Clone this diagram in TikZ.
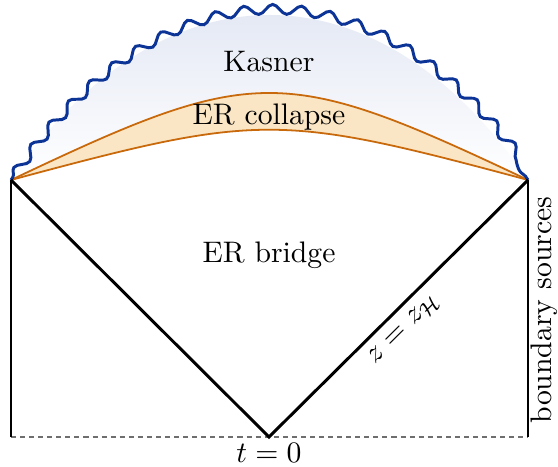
\documentclass[tikz,border=0pt]{standalone}
\usetikzlibrary{decorations.pathmorphing}
\definecolor{kasnertop}{RGB}{220,226,241}
\definecolor{bandfill}{RGB}{250,230,196}
\definecolor{bandline}{RGB}{200,105,12}
\definecolor{wavecol}{RGB}{12,52,150}
\definecolor{dashcol}{RGB}{110,110,110}
\tikzset{
  edge/.style={line width=1pt, black},
  bandedge/.style={line width=0.6pt, draw=bandline},
  wavy/.style={line width=1pt, draw=wavecol, decorate,
    decoration={snake, segment length=9.6pt, amplitude=1.6pt, pre length=1pt, post length=1pt}},
  baseline/.style={line width=0.6pt, draw=dashcol, dash pattern=on 1.7pt off 1.35pt},
  lbl/.style={font=\normalsize, inner sep=1pt}
}
\begin{document}
\begin{tikzpicture}[x=0.3367pt,y=0.3367pt]
\useasboundingbox (0,0) rectangle (558,467);
\coordinate (LT) at (11,287);
\coordinate (RT) at (528,287);
\coordinate (LB) at (11,30);
\coordinate (RB) at (528,30);
\coordinate (B) at (269,30);
% Kasner region fill
\shade[top color=kasnertop, bottom color=white]
  (LT) .. controls (161,507) and (378,507) .. (RT)
  .. controls (283,403) and (255,403) .. (LT) -- cycle;
% ER collapse band
\fill[bandfill] (LT) .. controls (255,403) and (283,403) .. (RT)
  .. controls (278,354) and (260,354) .. (LT) -- cycle;
\draw[bandedge] (LT) .. controls (255,403) and (283,403) .. (RT);
\draw[bandedge] (LT) .. controls (260,354) and (278,354) .. (RT);
% singularity
\draw[wavy] (LT) .. controls (161,507) and (378,507) .. (RT);
% baseline
\draw[baseline] (LB) -- (RB);
% boundaries and horizons
\draw[edge] (LT) -- (LB);
\draw[edge] (RT) -- (RB);
\draw[edge, line join=miter] (LT) -- (B) -- (RT)
  node[lbl, pos=0.47, sloped, below=2pt] (zh) {$z=z_{\mathcal{H}}$};
% labels
\node[lbl] (kas) at (269,405) {Kasner};
\node[lbl] (erc) at (269,350) {ER collapse};
\node[lbl] (erb) at (269,212) {ER bridge};
\node[lbl] (t0) at (269,14) {$t=0$};
\node[lbl, rotate=90] (bs) at (544,157) {boundary sources};
\end{tikzpicture}
\end{document}
